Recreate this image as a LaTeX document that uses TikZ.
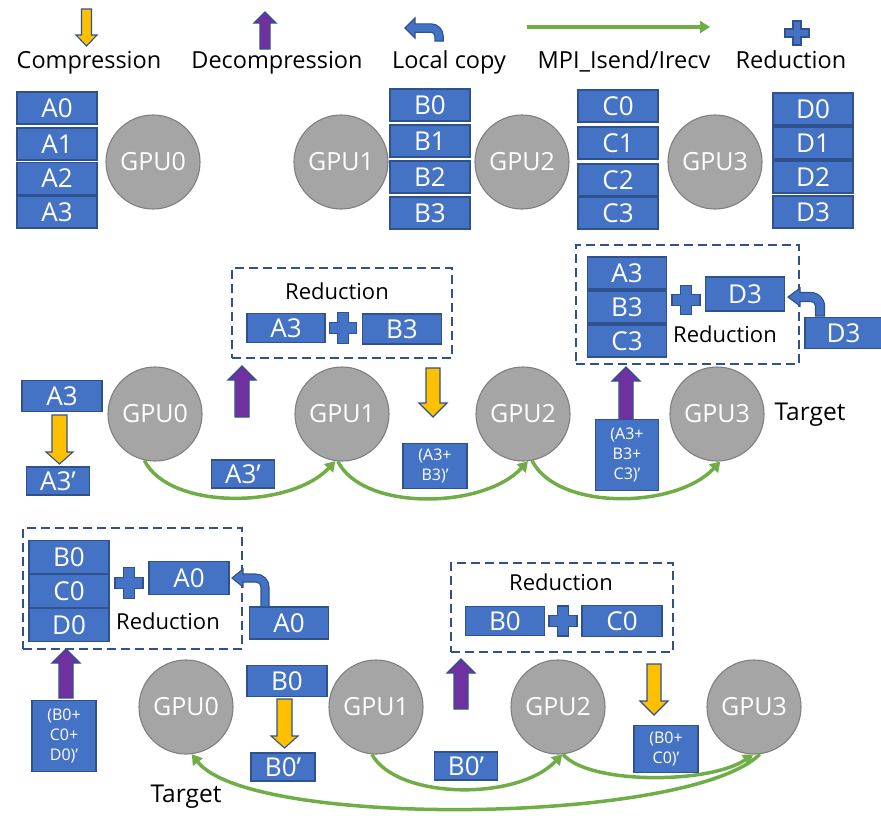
\documentclass[tikz,border=0pt]{standalone}
\usepackage{fontspec}
\setmainfont{Open Sans}
\usetikzlibrary{arrows.meta}

\definecolor{boxfill}{HTML}{4472C4}
\definecolor{boxedge}{HTML}{2F528F}
\definecolor{gpufill}{HTML}{A5A5A5}
\definecolor{gpuedge}{HTML}{7F7F7F}
\definecolor{cmpfill}{HTML}{FFC000}
\definecolor{decfill}{HTML}{7030A0}
\definecolor{mpigreen}{HTML}{70AD47}

% block arrow pointing down: x, y top, y tip, shaft half width, head half width, head length, fill
\newcommand\arrdown[7]{%
  \filldraw[fill=#7, draw=boxedge, line width=1.1pt, line join=miter]
    ({#1-#4},#2) -- ({#1+#4},#2) -- ({#1+#4},{#3-#6}) -- ({#1+#5},{#3-#6})
    -- (#1,#3) -- ({#1-#5},{#3-#6}) -- ({#1-#4},{#3-#6}) -- cycle;}
% block arrow pointing up: x, y tip, y bottom, shaft half width, head half width, head length, fill
\newcommand\arrup[7]{%
  \filldraw[fill=#7, draw=boxedge, line width=1.1pt, line join=miter]
    ({#1-#4},#3) -- ({#1+#4},#3) -- ({#1+#4},{#2+#6}) -- ({#1+#5},{#2+#6})
    -- (#1,#2) -- ({#1-#5},{#2+#6}) -- ({#1-#4},{#2+#6}) -- cycle;}
% plus sign: x, y, half width, half height, arm half thickness
\newcommand\plusmark[5]{%
  \filldraw[fill=boxfill, draw=boxedge, line width=1.1pt]
    ({#1-#5},{#2-#4}) -- ({#1+#5},{#2-#4}) -- ({#1+#5},{#2-#5}) -- ({#1+#3},{#2-#5})
    -- ({#1+#3},{#2+#5}) -- ({#1+#5},{#2+#5}) -- ({#1+#5},{#2+#4}) -- ({#1-#5},{#2+#4})
    -- ({#1-#5},{#2+#5}) -- ({#1-#3},{#2+#5}) -- ({#1-#3},{#2-#5}) -- ({#1-#5},{#2-#5}) -- cycle;}
% bent copy arrow: tip x, shaft y, head base x, bend x, bottom y, head half, shaft half, bend radius
\newcommand\copyarrow[8]{%
  \filldraw[fill=boxfill, draw=boxedge, line width=1.1pt, line join=miter]
    (#1,#2) -- (#3,{#2-#6}) -- (#3,{#2-#7}) -- ({#4-#8},{#2-#7})
    arc[start angle=90, end angle=0, radius={(#8+#7)*1pt}]
    -- ({#4+#7},#5) -- ({#4-#7},#5) -- ({#4-#7},{#2+#8})
    arc[start angle=0, end angle=90, radius={(#8-#7)*1pt}]
    -- (#3,{#2+#7}) -- (#3,{#2+#6}) -- cycle;}

\begin{document}
\begin{tikzpicture}[x=1pt, y=-1pt,
  blk/.style={draw=boxedge, fill=boxfill, line width=1.1pt, text=white, inner sep=0pt,
    font=\fontsize{26}{30}\selectfont, minimum width=80pt, minimum height=32pt},
  small/.style={font=\fontsize{16}{20}\selectfont, align=center},
  gpu/.style={circle, draw=gpuedge, fill=gpufill, line width=1.1pt, minimum size=94pt,
    inner sep=0pt, text=white, font=\fontsize{25}{29}\selectfont},
  lbl/.style={font=\fontsize{23.5}{28}\selectfont, text=black, inner sep=0pt},
  redlbl/.style={font=\fontsize{22}{26}\selectfont, text=black, inner sep=0pt},
  dashbox/.style={draw=boxedge, line width=2pt, dash pattern=on 9pt off 5pt, inner sep=0pt},
  mpi/.style={draw=mpigreen, line width=3.5pt, -{Triangle[length=10pt, width=12pt]}}
]
\useasboundingbox (0,0) rectangle (881,815);

% ---------- legend ----------
\arrdown{86.5}{9}{46}{5}{10.5}{11}{cmpfill}
\node[lbl, anchor=base] (lgcmp) at (89,68) {Compression};
\arrup{265}{12}{49}{5}{11}{11}{decfill}
\node[lbl, anchor=base] (lgdec) at (277,68) {Decompression};
\copyarrow{405}{28}{415}{439}{41}{10}{4.2}{8}
\node[lbl, anchor=base] (lgcopy) at (449,68) {Local copy};
\coordinate (mpiA) at (527,27);
\coordinate (mpiB) at (710,27);
\draw[mpi] (mpiA) -- (mpiB);
\node[lbl, anchor=base] (lgmpi) at (624,68) {MPI\_Isend/Irecv};
\plusmark{797}{33}{12}{12}{4}
\node[lbl, anchor=base] (lgred) at (791,68) {Reduction};

% ---------- initial data on each GPU ----------
\node[gpu] (t0) at (153,162) {GPU0};
\node[gpu] (t1) at (341,162) {GPU1};
\node[gpu] (t2) at (522,162) {GPU2};
\node[gpu] (t3) at (715,162) {GPU3};
\node[blk] (a0) at (57,108) {A0};
\node[blk] (a1) at (57,144) {A1};
\node[blk] (a2) at (57,178.5) {A2};
\node[blk] (a3) at (57,212) {A3};
\node[blk] (b0) at (430,105) {B0};
\node[blk] (b1) at (430,141) {B1};
\node[blk] (b2) at (430,177) {B2};
\node[blk] (b3) at (430,213) {B3};
\node[blk] (c0) at (618,106) {C0};
\node[blk] (c1) at (618,143) {C1};
\node[blk] (c2) at (618,180) {C2};
\node[blk] (c3) at (618,213) {C3};
\node[blk] (d0) at (813,109) {D0};
\node[blk] (d1) at (813,143) {D1};
\node[blk] (d2) at (813,177) {D2};
\node[blk] (d3) at (813,212) {D3};

% ---------- chunk 3 reduced onto GPU3 ----------
\node[gpu] (m0) at (155,414) {GPU0};
\node[gpu] (m1) at (342,414) {GPU1};
\node[gpu] (m2) at (523,414) {GPU2};
\node[gpu] (m3) at (717,414) {GPU3};
\node[lbl, font=\fontsize{24.5}{28}\selectfont] (mtarget) at (810,415) {Target};

\draw[mpi] (m0.-103) .. controls +(25,50) and +(-45,48) .. (m1.-98);
\draw[mpi] (m1.-95) .. controls +(25,50) and +(-45,48) .. (m2.-84);
\draw[mpi] (m2.-79) .. controls +(25,50) and +(-45,48) .. (m3.-86);

\node[blk, minimum height=31pt] (ma3) at (62,396) {A3};
\arrdown{59.5}{415}{464}{7.5}{13.5}{12}{cmpfill}
\node[blk, minimum width=63pt, minimum height=28pt] (ma3c) at (58,481) {A3’};
\node[blk, minimum width=63pt, minimum height=28pt] (msend0) at (243,474) {A3’};

\node[dashbox, minimum width=220pt, minimum height=90pt] (rbox1) at (342,313) {};
\node[redlbl] (rlbl1) at (337,291) {Reduction};
\node[blk, minimum width=78pt, minimum height=29pt] (r1a) at (286,328) {A3};
\plusmark{343}{328}{13.5}{15.5}{5.5}
\node[blk, minimum width=79pt, minimum height=30pt] (r1b) at (402,329) {B3};
\arrup{242}{366}{417}{7}{14}{14}{decfill}
\arrdown{433}{368}{417}{7}{14}{14}{cmpfill}
\node[blk, small, minimum width=64pt, minimum height=45pt] (msend1) at (435,466) {(A3+\\B3)’};

\node[dashbox, minimum width=223pt, minimum height=119pt] (rbox2) at (687.5,304.5) {};
\node[blk, minimum width=79pt, minimum height=32pt] (r2a) at (627,273) {A3};
\node[blk, minimum width=79pt, minimum height=32pt] (r2b) at (627,307) {B3};
\node[blk, minimum width=79pt, minimum height=32pt] (r2c) at (627,341) {C3};
\plusmark{686}{300}{14}{14.5}{5.5}
\node[blk, minimum width=79pt, minimum height=34pt] (r2d) at (745,294) {D3};
\node[redlbl] (rlbl2) at (725,334) {Reduction};
\node[blk, minimum width=77pt, minimum height=31pt] (md3) at (843.5,333) {D3};
\copyarrow{788}{297}{800}{820}{316}{9}{4.5}{9}
\arrup{626}{367}{420}{7}{14}{14}{decfill}
\node[blk, small, minimum width=63pt, minimum height=71pt] (msend2) at (627,455) {(A3+\\B3+\\C3)’};

% ---------- chunk 0 reduced onto GPU0 ----------
\node[gpu] (n0) at (186,707) {GPU0};
\node[gpu] (n1) at (376,707) {GPU1};
\node[gpu] (n2) at (558,707) {GPU2};
\node[gpu] (n3) at (754,707) {GPU3};
\node[lbl, font=\fontsize{24.5}{28}\selectfont] (ntarget) at (186,797) {Target};

\draw[mpi] (n1.-95) .. controls +(25,45) and +(-45,47) .. (n2.-85);
\draw[mpi] (n2.-84) .. controls +(25,30) and +(-45,30) .. (n3.-91);
\draw[mpi] (n3.-83) .. controls +(-70,70) and +(58,75) .. (n0.-83);

\node[dashbox, minimum width=219pt, minimum height=121pt] (rbox3) at (132.5,588.5) {};
\node[blk, minimum height=33pt] (r3b) at (69,557) {B0};
\node[blk, minimum height=33pt] (r3c) at (69,591) {C0};
\node[blk, minimum height=33pt] (r3d) at (69,625) {D0};
\plusmark{129}{583}{14}{15.5}{5.5}
\node[blk, minimum height=33pt] (r3a) at (189,578) {A0};
\node[redlbl] (rlbl3) at (168,621) {Reduction};
\node[blk, minimum width=79pt, minimum height=32pt] (na0) at (289,623) {A0};
\copyarrow{232}{578}{243}{265}{607}{9}{4}{9}
\arrup{66}{649}{698}{7}{14}{14}{decfill}
\node[blk, small, minimum width=64pt, minimum height=71pt] (nsend3) at (64,736) {(B0+\\C0+\\D0)’};

\node[blk, minimum height=31pt] (nb0) at (287,681) {B0};
\arrdown{284.5}{699}{748}{7.5}{13.5}{12}{cmpfill}
\node[blk, minimum width=64pt, minimum height=28pt] (nb0c) at (283,767) {B0’};
\node[blk, minimum width=63pt, minimum height=28pt] (nsend1) at (466,766) {B0’};

\node[dashbox, minimum width=222pt, minimum height=89pt] (rbox4) at (562,607.5) {};
\node[redlbl] (rlbl4) at (561,582) {Reduction};
\node[blk, minimum width=79pt, minimum height=29pt] (r4b) at (505,621) {B0};
\plusmark{563}{621}{14}{15}{5.5}
\node[blk, minimum width=80pt, minimum height=31pt] (r4c) at (622,621) {C0};
\arrup{461}{659}{709}{7}{14}{14}{decfill}
\arrdown{654}{664}{715}{7}{14}{14}{cmpfill}
\node[blk, small, minimum width=64pt, minimum height=47pt] (nsend2) at (666,749) {(B0+\\C0)’};
\end{tikzpicture}
\end{document}
